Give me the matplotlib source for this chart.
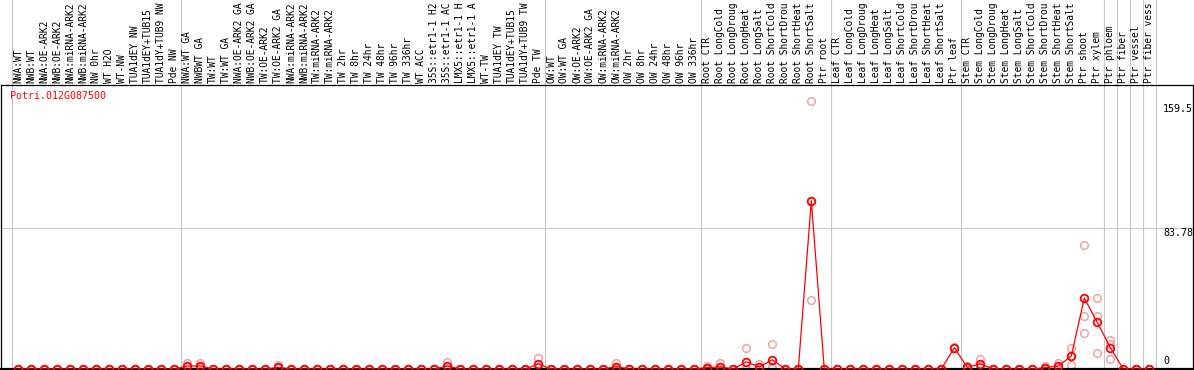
import numpy as np
import matplotlib
matplotlib.use("Agg")
import matplotlib.pyplot as plt
import matplotlib.transforms as mtransforms

gene = "Potri.012G087500"

# sample names as they show in the header (long ones are cut like in the original)
samples = [
    # group 1
    "NWA:WT", "NWB:WT", "NWA:OE-ARK2", "NWB:OE-ARK2", "NWA:miRNA-ARK2", "NWB:miRNA-ARK2",
    "NW 0hr", "WT H2O", "WT-NW", "TUA1dEY NW", "TUA1dEY+TUB15", "TUA1dY+TUB9 NW", "Pde NW",
    # group 2
    "NWA:WT GA", "NWBWT GA", "TW:WT", "TW:WT GA", "NWA:OE-ARK2 GA", "NWB:OE-ARK2 GA",
    "TW:OE-ARK2", "TW:OE-ARK2 GA", "NWA:miRNA-ARK2", "NWB:miRNA-ARK2", "TW:miRNA-ARK2",
    "TW:miRNA-ARK2", "TW 2hr", "TW 8hr", "TW 24hr", "TW 48hr", "TW 96hr", "TW 336hr",
    "WT ACC", "35S::etr1-1 H2", "35S::etr1-1 AC", "LMX5::etr1-1 H", "LMX5::etr1-1 A",
    "WT-TW", "TUA1dEY TW", "TUA1dEY+TUB15", "TUA1dY+TUB9 TW", "Pde TW",
    # group 3
    "OW:WT", "OW:WT GA", "OW:OE-ARK2", "OW:OE-ARK2 GA", "OW:miRNA-ARK2", "OW:miRNA-ARK2",
    "OW 2hr", "OW 8hr", "OW 24hr", "OW 48hr", "OW 96hr", "OW 336hr",
    # root
    "Root CTR", "Root LongCold", "Root LongDroug", "Root LongHeat", "Root LongSalt",
    "Root ShortCold", "Root ShortDrou", "Root ShortHeat", "Root ShortSalt", "Ptr root",
    # leaf
    "Leaf CTR", "Leaf LongCold", "Leaf LongDroug", "Leaf LongHeat", "Leaf LongSalt",
    "Leaf ShortCold", "Leaf ShortDrou", "Leaf ShortHeat", "Leaf ShortSalt", "Ptr leaf",
    # stem
    "Stem CTR", "Stem LongCold", "Stem LongDroug", "Stem LongHeat", "Stem LongSalt",
    "Stem ShortCold", "Stem ShortDrou", "Stem ShortHeat", "Stem ShortSalt", "Ptr shoot",
    "Ptr xylem",
    "Ptr phloem", "Ptr fiber", "Ptr vessel", "Ptr fiber vess",
]

# group boundaries (after these sample positions)
group_bounds = [-0.5, 12.5, 40.5, 52.5, 62.5, 72.5, 83.5, 84.5, 85.5, 86.5, 87.5]

# replicate values for samples that are above zero (index: (r1, r2, r3))
replicates = {
    13: (3.4, 1.0, 1.0),
    14: (3.4, 1.0, 1.0),
    20: (2.4, 0.3, 0.3),
    33: (4.3, 0.6, 0.5),
    40: (6.7, 1.2, 1.1),
    46: (3.4, 0.4, 0.4),
    53: (2.0, 0.3, 0.2),
    54: (3.4, 0.2, 0.1),
    56: (12.7, 0.1, 0.1),
    57: (2.8, 0.5, 0.3),
    58: (14.7, 1.4, 0.4),
    61: (159.5, 100.0, 41.1),
    72: (13.2, 12.6, 12.3),
    73: (1.8, 0.7, 0.5),
    74: (6.1, 1.8, 1.1),
    79: (1.8, 0.4, 0.2),
    80: (3.8, 1.0, 0.6),
    81: (12.7, 8.0, 2.4),
    82: (73.8, 31.7, 21.2),
    83: (42.1, 31.7, 9.3),
    84: (17.3, 15.0, 5.8),
}

ytick_vals = [159.5, 83.78, 0]
ytick_text = ["159.5", "83.78", "0"]

n = len(samples)
rep1 = np.zeros(n)
rep2 = np.zeros(n)
rep3 = np.zeros(n)
for k, (a, b, c) in replicates.items():
    rep1[k], rep2[k], rep3[k] = a, b, c
means = (rep1 + rep2 + rep3) / 3.0
xs = np.arange(n)

W, H = 1194, 370
fig = plt.figure(figsize=(W / 100, H / 100), dpi=100)
ax = fig.add_axes([1 / W, 1 / H, 1192 / W, 284 / H])

x0, step = 18.3, 13.0
ax.set_xlim((1 - x0) / step, (1193 - x0) / step)
ymax = max(ytick_vals) * 1.06
ax.set_ylim(0, ymax)
ax.set_xticks([])
ax.set_yticks([])

mono = "DejaVu Sans Mono"
fs = 7.2
grey = "#c8c8c8"
trans = mtransforms.blended_transform_factory(ax.transData, ax.transAxes)
top_ext = 1 + 85 / 284

for b in group_bounds:
    ax.plot([b, b], [0, top_ext + 0.05], transform=trans, color=grey, lw=0.8,
            clip_on=False, zorder=1)

ax.axhline(ytick_vals[1], color=grey, lw=0.8, zorder=1)

# header labels, bottom aligned just above the frame
for i, s in enumerate(samples):
    ax.text(i, 1 + 2 / 284, s, transform=trans, rotation=90, ha="center",
            va="bottom", fontsize=6.95, family=mono, color="black", clip_on=False)

pale = "#f09c9c"
for r in (rep1, rep2, rep3):
    ax.plot(xs, r, linestyle="none", marker="o", ms=5.5, mfc="none", mec=pale,
            mew=1.0, zorder=2)

ax.plot(xs, means, color="red", lw=0.9, marker="o", ms=5.5, mfc="none",
        mec="red", mew=1.3, zorder=3)

ytrans = mtransforms.blended_transform_factory(ax.transAxes, ax.transData)
tx = (1163 - 1) / 1192
ax.text(tx, ytick_vals[0] - 2.0, ytick_text[0], transform=ytrans, ha="left",
        va="top", fontsize=fs, family=mono)
ax.text(tx, ytick_vals[1], ytick_text[1], transform=ytrans, ha="left",
        va="top", fontsize=fs, family=mono)
ax.text(tx, 2.0, ytick_text[2], transform=ytrans, ha="left",
        va="bottom", fontsize=fs, family=mono)

fig.text(10 / W, 1 - 91 / H, gene, color="red", ha="left", va="top",
         fontsize=fs, family=mono)

for sp in ax.spines.values():
    sp.set_linewidth(0.9)
    sp.set_color("black")
ax.spines["bottom"].set_linewidth(1.6)

fig.savefig("out.png", dpi=100)
